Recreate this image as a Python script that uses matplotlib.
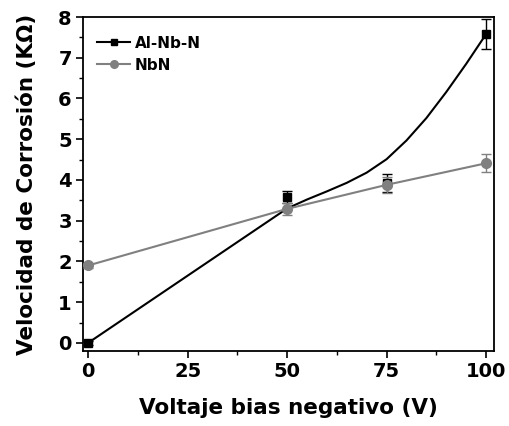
import matplotlib
matplotlib.use("Agg")
import matplotlib.pyplot as plt
from matplotlib.ticker import MultipleLocator

plt.rcParams['font.family'] = ['DejaVu Sans']
plt.rcParams['font.weight'] = 'bold'

voltage = [0, 50, 75, 100]
alnbn = [0.0, 3.58, 3.93, 7.58]
alnbn_err = [0.05, 0.15, 0.22, 0.37]
nbn = [1.9, 3.29, 3.88, 4.41]
nbn_err = [0.05, 0.15, 0.2, 0.22]

# smooth curve drawn for Al-Nb-N
curve_x = [0, 25, 50, 55, 60, 65, 70, 75, 80, 85, 90, 95, 100]
curve_y = [0.0, 1.65, 3.3, 3.52, 3.72, 3.93, 4.18, 4.51, 4.97, 5.52, 6.16, 6.85, 7.58]

xticks = [0, 25, 50, 75, 100]
yticks = [0, 1, 2, 3, 4, 5, 6, 7, 8]

grey = '#808080'

fig = plt.figure(figsize=(5.1, 4.26), dpi=100)
ax = fig.add_axes([0.1627, 0.176, 0.806, 0.784])

ax.plot(curve_x, curve_y, color='black', lw=1.5, zorder=2)
ax.errorbar(voltage, alnbn, yerr=alnbn_err, fmt='s', color='black', ms=6,
            capsize=3.5, elinewidth=1, capthick=1, zorder=3)
ax.plot(voltage, nbn, color=grey, lw=1.5, zorder=2)
ax.errorbar(voltage, nbn, yerr=nbn_err, fmt='o', color=grey, ms=7,
            capsize=3.5, elinewidth=1, capthick=1, zorder=3)

# legend proxies
h1, = ax.plot([], [], color='black', marker='s', ms=4.5, lw=1.5)
h2, = ax.plot([], [], color=grey, marker='o', ms=5.5, lw=1.5)
leg = ax.legend([h1, h2], ['Al-Nb-N', 'NbN'], loc='upper left',
                bbox_to_anchor=(0.0, 0.985), frameon=False,
                prop={'size': 11, 'weight': 'bold'}, handlelength=2.2,
                handletextpad=0.3, labelspacing=0.45)

ax.set_xlim(-1.3, 102)
ax.set_ylim(-0.2, 8)
ax.set_xticks(xticks)
ax.set_yticks(yticks)
ax.xaxis.set_minor_locator(MultipleLocator(12.5))
ax.yaxis.set_minor_locator(MultipleLocator(0.5))
ax.tick_params(which='major', direction='out', length=5, width=1.2,
               labelsize=14, pad=3)
ax.tick_params(which='minor', direction='out', length=3, width=1.0)
ax.tick_params(top=False, right=False)
for lab in ax.get_xticklabels() + ax.get_yticklabels():
    lab.set_fontweight('bold')
for s in ax.spines.values():
    s.set_linewidth(1.3)

ax.set_xlabel('Voltaje bias negativo (V)', fontsize=15.5, fontweight='bold', labelpad=12)
ax.set_ylabel('Velocidad de Corrosión (KΩ)', fontsize=15.5, fontweight='bold', labelpad=15)

fig.savefig('out.png', dpi=100)
